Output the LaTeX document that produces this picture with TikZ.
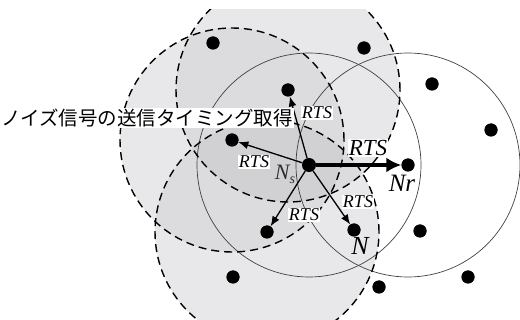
\documentclass[tikz,border=0pt]{standalone}
\usepackage{fontspec}
\setmainfont{Liberation Serif}
\newfontfamily\jpfont{Noto Sans CJK JP}
\usetikzlibrary{arrows.meta}
\definecolor{gone}{RGB}{232,232,234}
\definecolor{gtwo}{RGB}{220,220,222}
\definecolor{gthree}{RGB}{209,209,211}
\begin{document}
\begin{tikzpicture}[x=1pt,y=-1pt,
  dot/.style={circle,fill=black,inner sep=0pt,minimum size=13pt},
  rng/.style={draw=black!75,line width=0.7pt},
  drng/.style={draw=black,line width=1.4pt,dash pattern=on 8pt off 5pt},
  arr/.style={-{Latex[length=10pt,width=8pt]},line width=1.3pt},
  bigarr/.style={-{Latex[length=15pt,width=15pt]},line width=3.8pt},
  rts/.style={fill=white,inner sep=0.8pt,font=\fontsize{18}{18}\selectfont\itshape},
  nlab/.style={inner sep=0pt,font=\itshape},
  jplab/.style={fill=white,inner sep=1pt,font=\jpfont\fontsize{19.5}{20}\selectfont}]
\useasboundingbox (0,0) rectangle (520,320);
\coordinate (cA) at (232,140);
\coordinate (cB) at (288,90);
\coordinate (cC) at (267,232);
% shading
\begin{scope}
  \clip (0,10) rectangle (520,320);
  \fill[gone] (cA) circle (112pt);
  \fill[gone] (cB) circle (112pt);
  \fill[gone] (cC) circle (112pt);
  \begin{scope}
    \clip (cA) circle (112pt);
    \fill[gtwo] (cB) circle (112pt);
    \fill[gtwo] (cC) circle (112pt);
  \end{scope}
  \begin{scope}
    \clip (cB) circle (112pt);
    \fill[gtwo] (cC) circle (112pt);
  \end{scope}
  \begin{scope}
    \clip (cA) circle (112pt);
    \clip (cB) circle (112pt);
    \fill[gthree] (cC) circle (112pt);
  \end{scope}
\end{scope}
% nodes (dots)
\node[dot] (d1) at (213,43) {};
\node[dot] (d2) at (364,48) {};
\node[dot] (up) at (288,90) {};
\node[dot] (d4) at (432,84) {};
\node[dot] (d5) at (491,130) {};
\node[dot] (left) at (232,140) {};
\node[dot,minimum size=14pt] (ns) at (309,165) {};
\node[dot] (nr) at (408,165) {};
\node[dot] (dl) at (267,232) {};
\node[dot] (nn) at (354,230) {};
\node[dot] (d11) at (420,231) {};
\node[dot] (d12) at (233,277) {};
\node[dot] (d13) at (379,287) {};
\node[dot] (d14) at (468,277) {};
% solid ranges
\draw[rng] (ns) circle (112pt);
\draw[rng] (nr) circle (112pt);
% dashed ranges
\begin{scope}
  \clip (0,10) rectangle (520,320);
  \draw[drng] (cA) circle (112pt);
  \draw[drng] (cB) circle (112pt);
  \draw[drng] (cC) circle (112pt);
\end{scope}
% arrows
\draw[arr] (ns) -- (up);
\draw[arr] (ns) -- (left);
\draw[arr] (ns) -- (dl);
\draw[arr] (ns) -- (nn);
\draw[bigarr] (ns) -- (nr);
% labels
\node[rts] (r1) at (317,113) {RTS};
\node[rts,font=\fontsize{23}{23}\selectfont\itshape] (r2) at (368,148) {RTS};
\node[rts] (r3) at (254,162) {RTS};
\node[rts] (r4) at (304,215) {RTS};
\node[rts] (r5) at (358,202) {RTS};
\node[nlab,text=black!82,font=\fontsize{22}{22}\selectfont\itshape] (lns) at (285,174) {N\raisebox{-4pt}{\fontsize{14}{14}\selectfont s}};
\node[nlab,font=\fontsize{25}{25}\selectfont\itshape] (lnr) at (402,183) {Nr};
\node[nlab,font=\fontsize{26}{26}\selectfont\itshape] (lnn) at (360,246) {N};
\node[jplab] (jp) at (147,118) {ノイズ信号の送信タイミング取得};
% redraw dots on top
\foreach \n in {d1,d2,up,d4,d5,left,ns,nr,dl,nn,d11,d12,d13,d14}
  \fill (\n) circle (6.5pt);
\end{tikzpicture}
\end{document}
